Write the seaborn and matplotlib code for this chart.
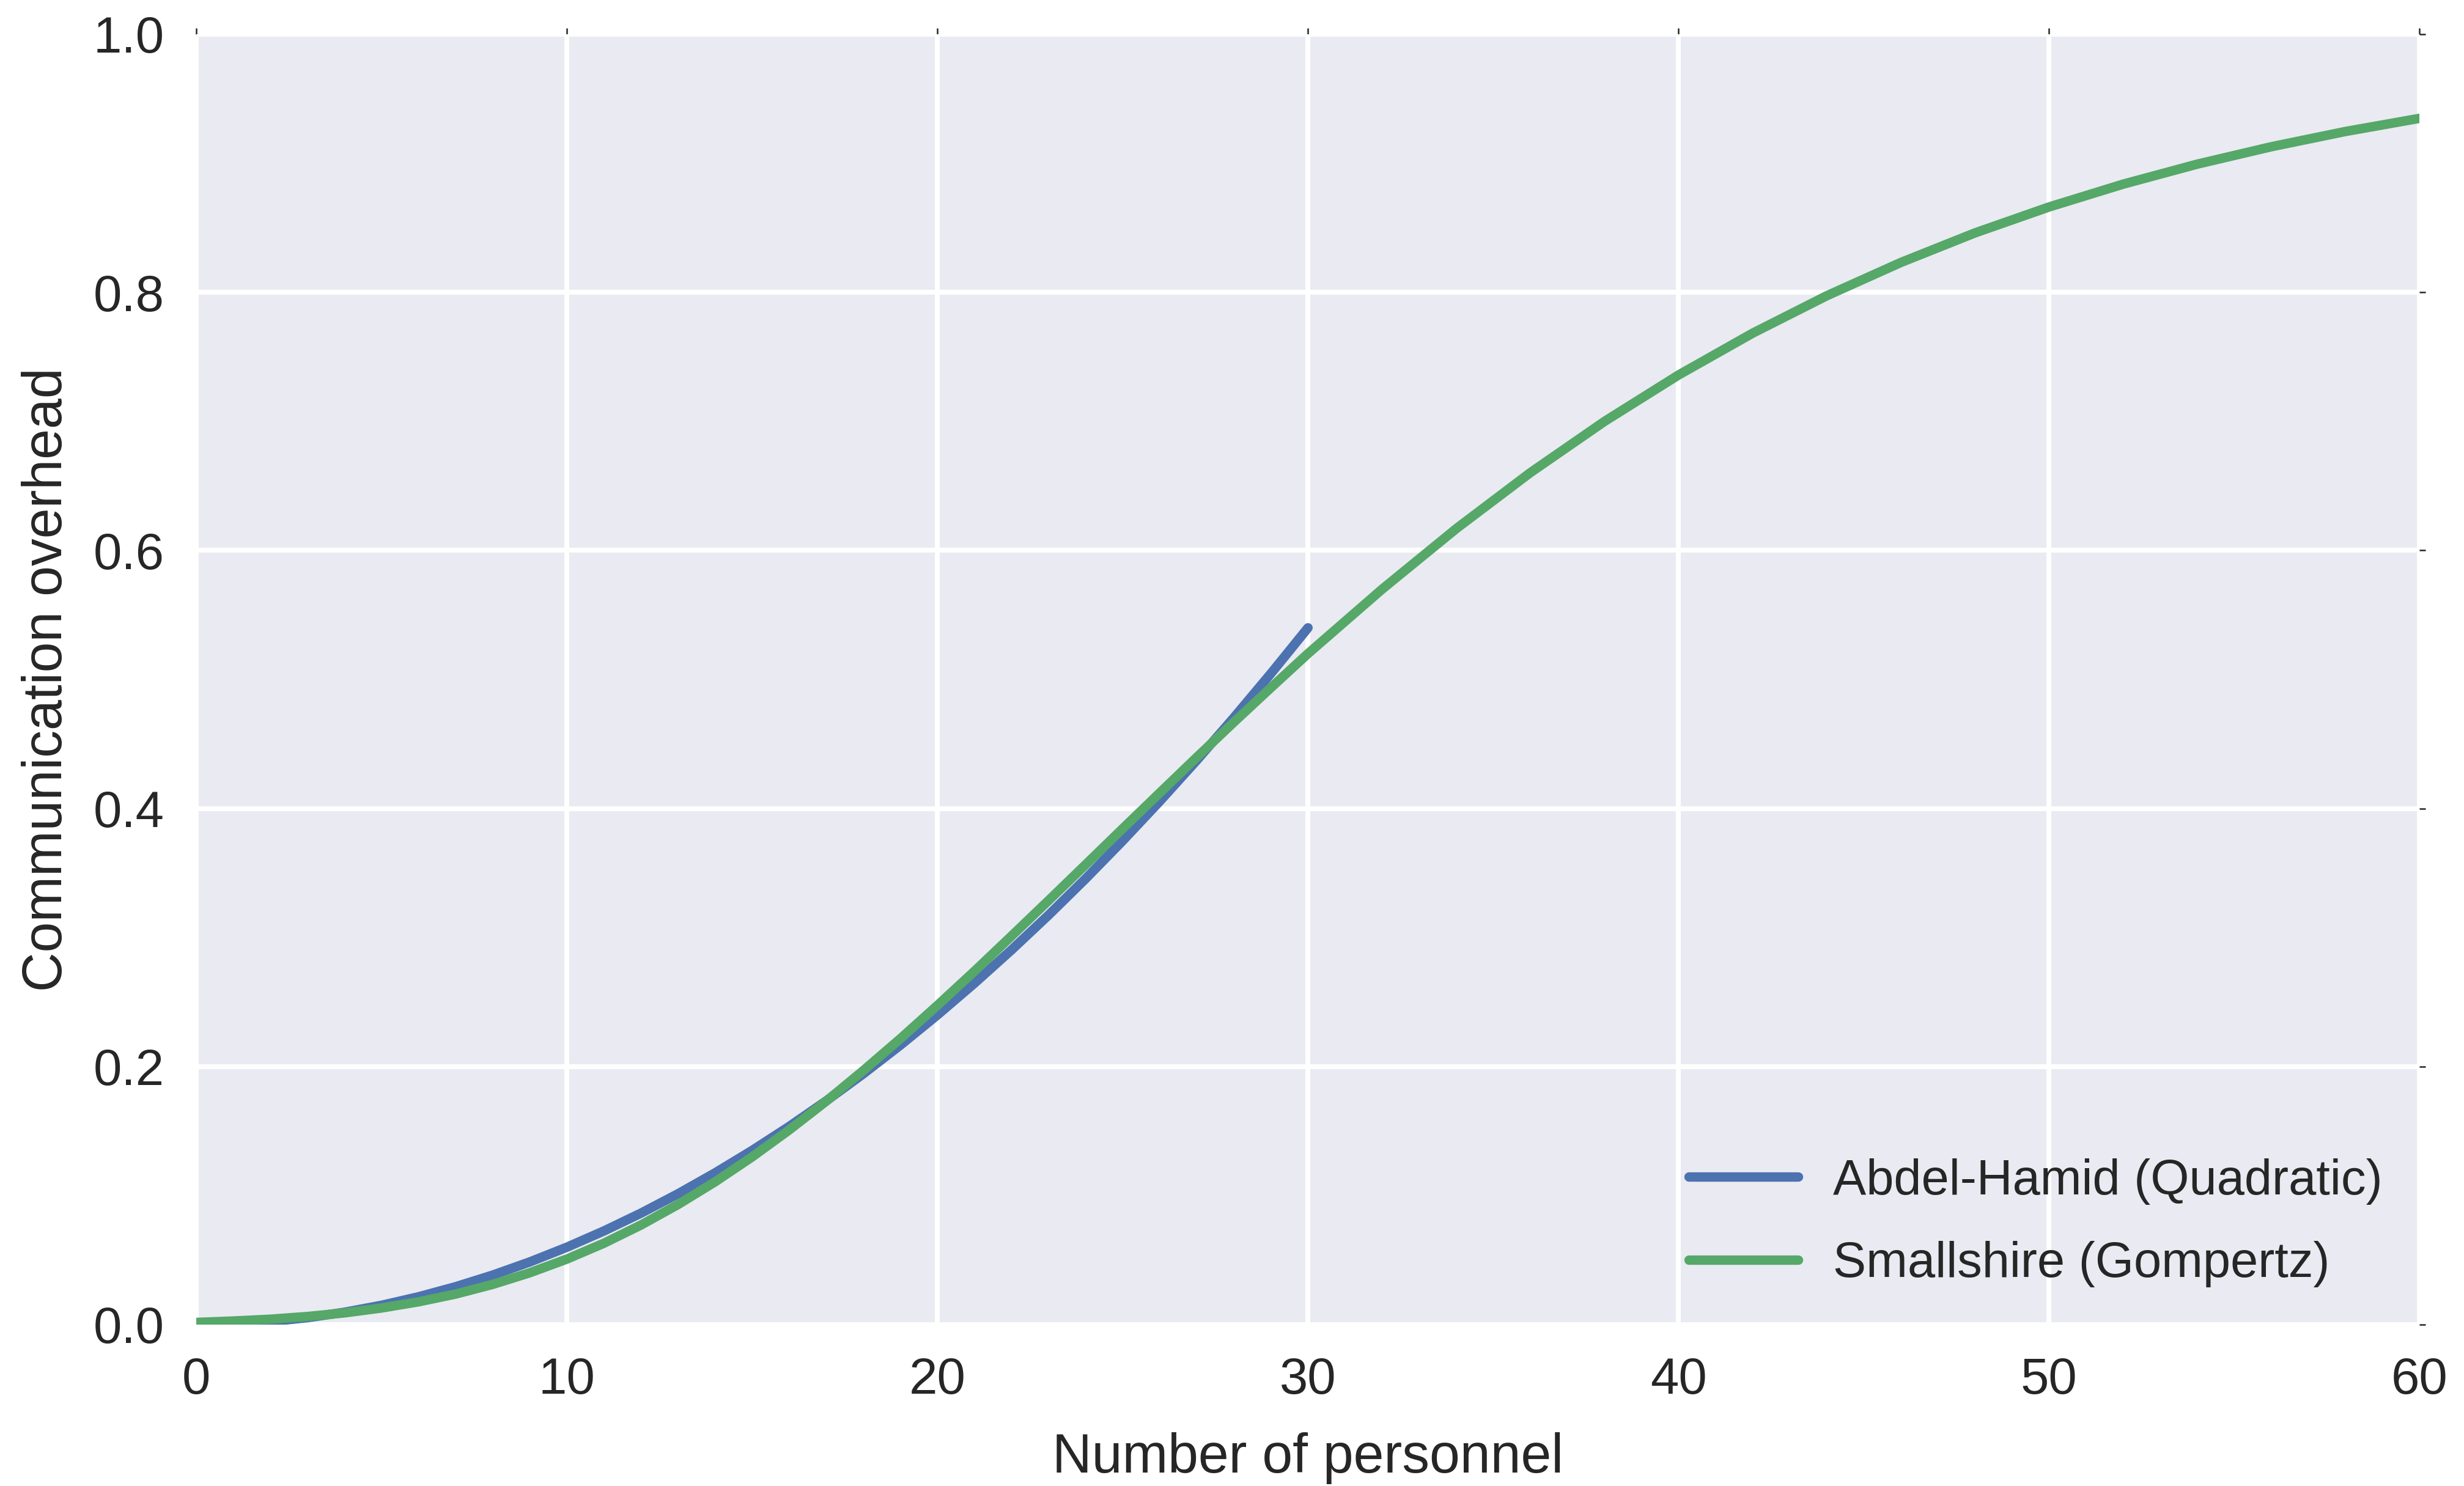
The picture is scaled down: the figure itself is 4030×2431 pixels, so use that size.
import matplotlib
matplotlib.use("Agg")
import matplotlib.pyplot as plt
import seaborn as sns
import pandas as pd

# Abdel-Hamid quadratic overhead model, team sizes 0..30
quad_n = list(range(0, 31))
quad_overhead = [0.0, 0.0006, 0.0024, 0.0054, 0.0096, 0.015, 0.0216, 0.0294,
                 0.0384, 0.0486, 0.06, 0.0726, 0.0864, 0.1014, 0.1176, 0.135,
                 0.1536, 0.1734, 0.1944, 0.2166, 0.24, 0.2646, 0.2904, 0.3174,
                 0.3456, 0.375, 0.4056, 0.4374, 0.4704, 0.5046, 0.54]

# Smallshire Gompertz overhead model, team sizes 0..60
gomp_n = list(range(0, 30)) + list(range(30, 61, 2))
gomp_overhead = [0.0017, 0.0028, 0.0042, 0.0063, 0.0091, 0.0129, 0.0177,
                 0.0237, 0.0312, 0.0402, 0.0508, 0.0631, 0.0772, 0.0931,
                 0.1107, 0.1300, 0.1509, 0.1732, 0.1969, 0.2216, 0.2474,
                 0.2739, 0.3012, 0.3287, 0.3565, 0.3844, 0.4121, 0.4397,
                 0.4669, 0.4936,
                 0.5200, 0.5699, 0.6168, 0.6602, 0.6999, 0.7359, 0.7683,
                 0.7973, 0.8231, 0.8460, 0.8661, 0.8838, 0.8993, 0.9128,
                 0.9246, 0.9348]

series_names = ["Abdel-Hamid (Quadratic)", "Smallshire (Gompertz)"]
x_ticks = [0, 10, 20, 30, 40, 50, 60]
y_ticks = [0.0, 0.2, 0.4, 0.6, 0.8, 1.0]

df = pd.concat([
    pd.DataFrame({"n": quad_n, "overhead": quad_overhead, "model": series_names[0]}),
    pd.DataFrame({"n": gomp_n, "overhead": gomp_overhead, "model": series_names[1]}),
], ignore_index=True)

sns.set_theme(style="darkgrid")
plt.rcParams["font.family"] = ["Liberation Sans", "DejaVu Sans"]
plt.rcParams["text.color"] = "#262626"
plt.rcParams["axes.labelcolor"] = "#262626"
plt.rcParams["xtick.color"] = "#262626"
plt.rcParams["ytick.color"] = "#262626"

fig, ax = plt.subplots(figsize=(4030 / 300, 2431 / 300), dpi=300)
fig.subplots_adjust(left=0.0797, right=0.982, top=0.977, bottom=0.1086)

palette = {series_names[0]: "#4C72B0", series_names[1]: "#55A868"}
sns.lineplot(data=df, x="n", y="overhead", hue="model", palette=palette,
             linewidth=3.7, ax=ax, solid_capstyle="round")

ax.set_xlim(0, 60)
ax.set_ylim(0, 1.0)
ax.set_xticks(x_ticks)
ax.set_yticks(y_ticks)
ax.set_yticklabels([f"{v:.1f}" for v in y_ticks])
ax.grid(True, color="white", linewidth=1.9)
ax.set_facecolor("#EAEAF2")
for spine in ax.spines.values():
    spine.set_visible(False)

ax.tick_params(axis="both", which="major", labelsize=20, direction="out",
               length=2.5, width=0.6, top=True, right=True, pad=10,
               color="#262626")
ax.set_xlabel("Number of personnel", fontsize=21.5, labelpad=11)
ax.set_ylabel("Communication overhead", fontsize=21.5, labelpad=8)

leg = ax.legend(loc="lower right", frameon=False, fontsize=19.5,
                handlelength=2.2, handletextpad=0.7, borderaxespad=0.35,
                labelspacing=0.73)
for line in leg.get_lines():
    line.set_linewidth(3.7)
    line.set_solid_capstyle("round")

fig.savefig("out.png", dpi=300)
